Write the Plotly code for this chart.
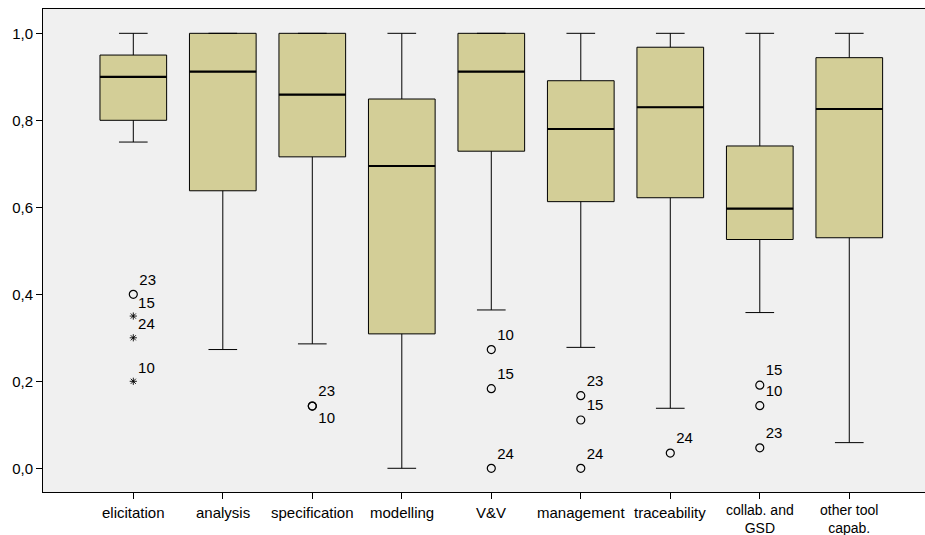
import plotly.graph_objects as go

# Capability scores per category (box statistics)
categories = ["elicitation", "analysis", "specification", "modelling", "V&V",
              "management", "traceability", "collab. and\nGSD", "other tool\ncapab."]
lower_whisker = [0.75, 0.273, 0.286, 0.0, 0.364, 0.278, 0.138, 0.358, 0.059]
q1 = [0.80, 0.638, 0.716, 0.309, 0.729, 0.613, 0.622, 0.526, 0.530]
median = [0.90, 0.912, 0.859, 0.695, 0.912, 0.780, 0.830, 0.597, 0.826]
q3 = [0.95, 1.0, 1.0, 0.849, 1.0, 0.891, 0.968, 0.741, 0.944]
upper_whisker = [1.0, 1.0, 1.0, 1.0, 1.0, 1.0, 1.0, 1.0, 1.0]

# Outliers (circles) and extremes (stars): category index, value, case label
outlier_cat = [0, 2, 2, 4, 4, 4, 5, 5, 5, 6, 7, 7, 7]
outlier_val = [0.40, 0.143, 0.143, 0.273, 0.183, 0.0, 0.167, 0.111, 0.0, 0.035, 0.191, 0.144, 0.047]
outlier_lab = ["23", "23", "10", "10", "15", "24", "23", "15", "24", "24", "15", "10", "23"]

extreme_cat = [0, 0, 0]
extreme_val = [0.35, 0.30, 0.20]
extreme_lab = ["15", "24", "10"]

FONT = "Liberation Sans, Arial, sans-serif"
BOX_W = 0.745
pos = list(range(len(categories)))

fig = go.Figure()

fig.add_trace(go.Box(
    x=pos, q1=q1, median=median, q3=q3,
    lowerfence=lower_whisker, upperfence=upper_whisker,
    width=BOX_W, whiskerwidth=0.43, boxpoints=False,
    fillcolor="#D3CE97", line=dict(color="#000000", width=1),
    showlegend=False, hoverinfo="skip",
))

# Heavier median strokes
mx, my = [], []
for i, m in zip(pos, median):
    mx += [i - BOX_W / 2, i + BOX_W / 2, None]
    my += [m, m, None]
fig.add_trace(go.Scatter(x=mx, y=my, mode="lines",
                         line=dict(color="#000000", width=2.2),
                         showlegend=False, hoverinfo="skip"))

# Label placement: the second of a coincident pair goes below
out_pos = []
seen = set()
for c, v in zip(outlier_cat, outlier_val):
    key = (c, v)
    out_pos.append("bottom right" if key in seen else "top right")
    seen.add(key)

fig.add_trace(go.Scatter(
    x=outlier_cat, y=outlier_val, mode="markers+text",
    marker=dict(symbol="circle-open", size=8, color="#000000", line=dict(width=1.2)),
    text=outlier_lab, textposition=out_pos,
    textfont=dict(family=FONT, size=15, color="#000000"),
    showlegend=False, hoverinfo="skip", cliponaxis=False,
))

fig.add_trace(go.Scatter(
    x=extreme_cat, y=extreme_val, mode="markers+text",
    marker=dict(symbol="asterisk-open", size=6, color="#000000", line=dict(width=0.9, color="#000000")),
    text=extreme_lab, textposition="top right",
    textfont=dict(family=FONT, size=15, color="#000000"),
    showlegend=False, hoverinfo="skip", cliponaxis=False,
))

# Category labels; two-line names are set a little smaller to fit the margin
for i, name in zip(pos, categories):
    lines = name.split("\n")
    multi = len(lines) > 1
    fig.add_annotation(
        x=i, xref="x", y=0, yref="paper", yanchor="middle", xanchor="center",
        yshift=-26.5 if multi else -20, text="<br>".join(lines), showarrow=False,
        font=dict(family=FONT, size=14 if multi else 15, color="#000000"),
    )

fig.update_layout(
    width=925, height=535,
    margin=dict(l=43, r=0, t=9, b=43),
    paper_bgcolor="#FFFFFF", plot_bgcolor="#F0F0F0",
    separators=",.",
    font=dict(family=FONT, size=15, color="#000000"),
    xaxis=dict(
        range=[-1.009, 8.846], tickvals=pos, ticktext=[""] * len(pos),
        ticks="outside", ticklen=6, tickcolor="#000000", tickwidth=1,
        showline=True, linecolor="#000000", linewidth=1, mirror=True,
        showgrid=False, zeroline=False,
    ),
    yaxis=dict(
        range=[-0.0545, 1.0559], tickvals=[0, 0.2, 0.4, 0.6, 0.8, 1.0],
        tickformat=".1f", ticks="outside", ticklen=6, tickcolor="#000000", tickwidth=1,
        showline=True, linecolor="#000000", linewidth=1,
        showgrid=False, zeroline=False,
        tickfont=dict(family=FONT, size=15, color="#000000"),
    ),
)

fig.write_html("out.html")
